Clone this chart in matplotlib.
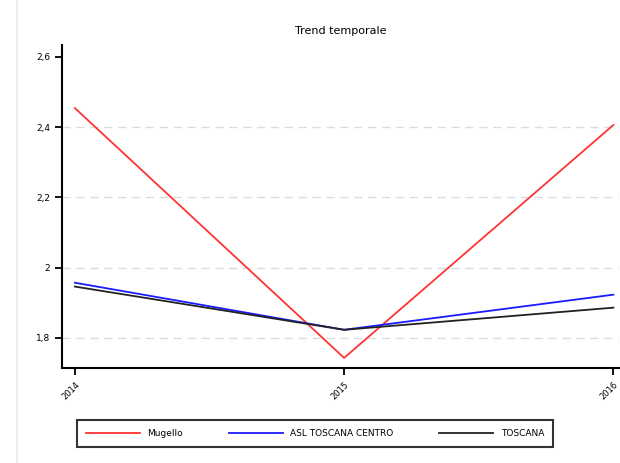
import numpy as np
import matplotlib.pyplot as plt
from matplotlib.lines import Line2D

anni = [2014, 2015, 2016]
mugello = [2.454, 1.743, 2.406]
asl_centro = [1.957, 1.823, 1.923]
toscana = [1.946, 1.823, 1.886]
y_ticks = [1.8, 2.0, 2.2, 2.4, 2.6]
y_labels = ['1,8', '2', '2,2', '2,4', '2,6']

fig = plt.figure(figsize=(6.2, 4.63), dpi=100)
ax = fig.add_axes([0.1, 0.205, 0.898, 0.698])

# linea sottile a sinistra (bordo pagina)
fig.add_artist(Line2D([0.027, 0.027], [0, 1], color='#e3ecf2', lw=1.2))

ax.plot(anni, mugello, color='#ff3333', lw=1.3, label='Mugello')
ax.plot(anni, asl_centro, color='#1a1aff', lw=1.3, label='ASL TOSCANA CENTRO')
ax.plot(anni, toscana, color='#222222', lw=1.3, label='TOSCANA')

ax.set_xlim(2013.952, 2016.02)
ax.set_ylim(1.714, 2.634)
ax.set_xticks(anni)
ax.set_xticklabels([str(a) for a in anni], rotation=45, ha='right',
                   rotation_mode='anchor', fontsize=6)
ax.set_yticks(y_ticks)
ax.set_yticklabels(y_labels, fontsize=6.5)
for v in y_ticks[:-1]:
    ax.axhline(v, color='#dcdcdc', lw=1.0, ls=(0, (6, 4)), zorder=0)

ax.spines['top'].set_visible(False)
ax.spines['right'].set_visible(False)
ax.spines['left'].set_linewidth(1.5)
ax.spines['bottom'].set_linewidth(1.5)
ax.tick_params(width=1.3, length=5)

ax.set_title('Trend temporale', fontsize=8, pad=8)

leg = fig.legend(loc='lower left', bbox_to_anchor=(0.124, 0.035, 0.768, 0.0665),
                 mode='expand', ncol=3, fontsize=6.5, fancybox=False,
                 edgecolor='black', handlelength=6, borderaxespad=0,
                 borderpad=1.0)
leg.get_frame().set_linewidth(1.5)

fig.savefig('out.png', dpi=100)
